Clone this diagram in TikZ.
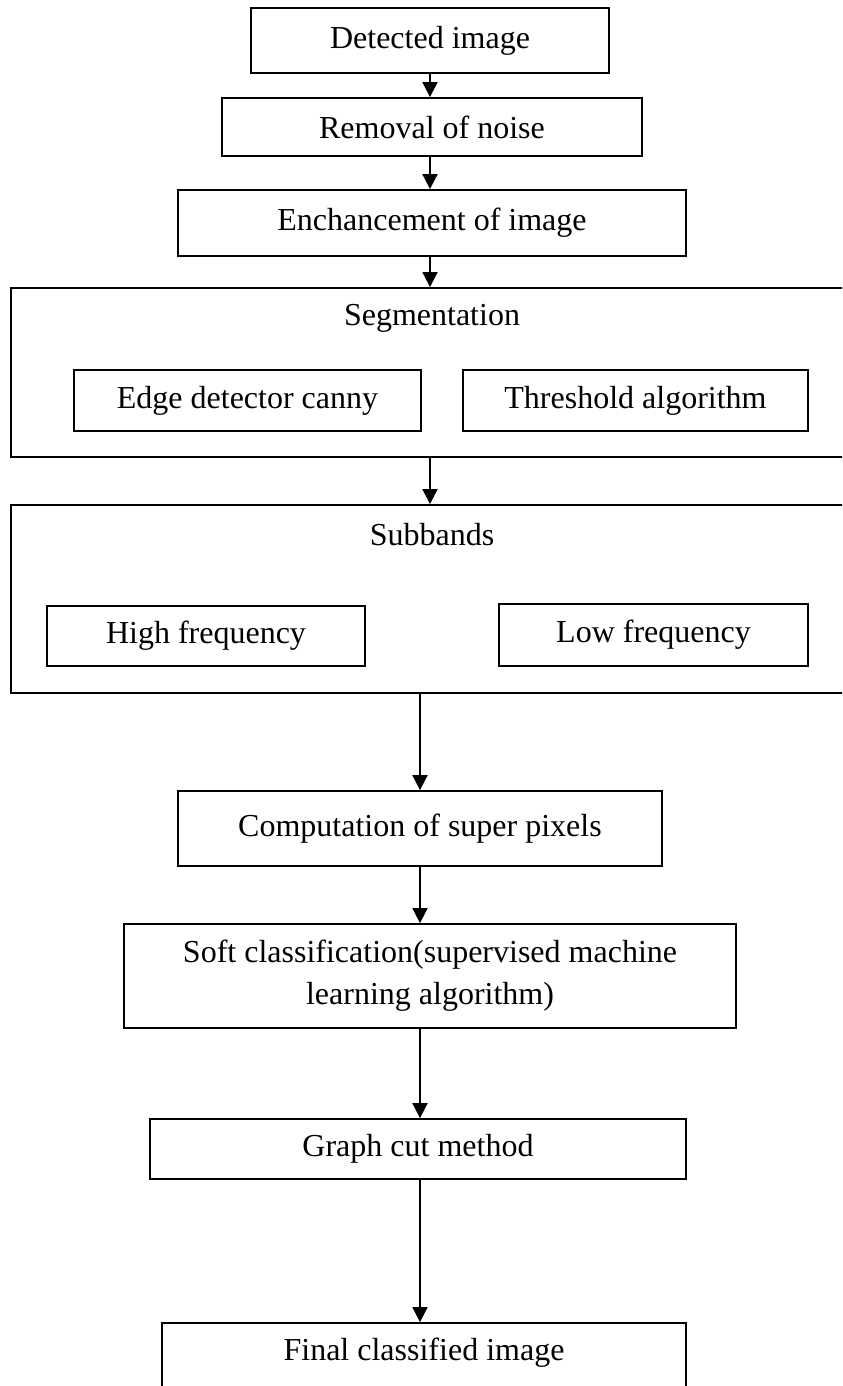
\documentclass[tikz,border=0pt]{standalone}
\usepackage{fontspec}
\setmainfont{Liberation Serif}
\usetikzlibrary{arrows.meta}
\begin{document}
\begin{tikzpicture}[x=0.5pt,y=-0.5pt,
  box/.style={draw,line width=0.9pt,inner sep=0pt,rectangle},
  txt/.style={inner sep=0pt,font=\fontsize{16}{21}\selectfont,align=center},
  flow/.style={line width=0.9pt,-{Triangle[length=7.5pt,width=7.5pt]}},
  plain/.style={line width=0.9pt}]
\useasboundingbox (0,0) rectangle (842,1386);
\clip (0,0) rectangle (842,1386);
\fill[white] (0,0) rectangle (842,1386);
% top chain
\node[box,txt,minimum width=179pt,minimum height=32.5pt] (det) at (430,40.5) {Detected image};
\node[box,txt,minimum width=210pt,minimum height=29pt] (rem) at (432,127) {Removal of noise};
\node[box,txt,minimum width=254pt,minimum height=33pt] (enh) at (432,223) {Enchancement of image};
% segmentation group
\node[box,minimum width=429.5pt,minimum height=84.5pt] (seg) at (440.5,372.5) {};
\node[txt] (segt) at (432,318) {Segmentation};
\node[box,txt,minimum width=173.5pt,minimum height=30.5pt] (edge) at (247.5,400.5) {Edge detector canny};
\node[box,txt,minimum width=172.5pt,minimum height=30.5pt] (thr) at (635.5,400.5) {Threshold algorithm};
% subbands group
\node[box,minimum width=429.5pt,minimum height=94pt] (sub) at (440.5,599) {};
\node[txt] (subt) at (432,535) {Subbands};
\node[box,txt,minimum width=159pt,minimum height=30pt] (high) at (206,636) {High frequency};
\node[box,txt,minimum width=154.5pt,minimum height=31pt] (low) at (653.5,635) {Low frequency};
% lower chain
\node[box,txt,minimum width=242pt,minimum height=37.5pt] (comp) at (420,828.5) {Computation of super pixels};
\node[box,txt,minimum width=306pt,minimum height=52pt] (soft) at (430,976) {Soft classification(supervised machine\\learning algorithm)};
\node[box,txt,minimum width=268pt,minimum height=30pt] (graph) at (418,1149) {Graph cut method};
\node[box,minimum width=262pt,minimum height=50pt] (fin) at (424,1373) {};
\node[txt] (fint) at (424,1353) {Final classified image};
% connectors
\draw[flow] (det.south) -- (det.south |- rem.north);
\draw[flow] (det.south |- rem.south) -- (det.south |- enh.north);
\draw[flow] (det.south |- enh.south) -- (det.south |- seg.north);
\draw[flow] (det.south |- seg.south) -- (det.south |- sub.north);
\draw[flow] (comp.north |- sub.south) -- (comp.north);
\draw[flow] (comp.south) -- (comp.south |- soft.north);
\draw[flow] (comp.south |- soft.south) -- (comp.south |- graph.north);
\draw[flow] (comp.south |- graph.south) -- (comp.south |- fin.north);
\end{tikzpicture}
\end{document}
